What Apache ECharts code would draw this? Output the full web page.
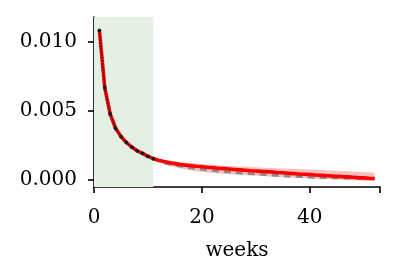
<!DOCTYPE html>
<html><head><meta charset="utf-8">
<script src="https://cdn.jsdelivr.net/npm/echarts@6/dist/echarts.min.js"></script>
<style>html,body{margin:0;padding:0;background:#fff}#c{width:398px;height:280px}</style>
</head><body><div id="c"></div>
<script>
const weeksAll = [1,2,3,4,5,6,7,8,9,10,11,12,13,14,15,16,17,18,19,20,21,22,23,24,25,26,27,28,29,30,31,32,33,34,35,36,37,38,39,40,41,42,43,44,45,46,47,48,49,50,51,52];
const redMean = [0.01083,0.00668,0.00478,0.00375,0.00315,0.00272,0.00239,0.00212,0.00193,0.00172,0.00155,0.00143,0.00134,0.00126,0.00119,0.00113,0.00108,0.00104,0.00100,0.00097,0.00093,0.00090,0.00086,0.00083,0.00080,0.00077,0.00074,0.00071,0.00068,0.00066,0.00063,0.00061,0.00058,0.00055,0.00053,0.00050,0.00047,0.00044,0.00042,0.00040,0.00037,0.00035,0.00032,0.00030,0.00028,0.00025,0.00023,0.00021,0.00018,0.00016,0.00013,0.00011];
const obsWeeks = [1,2,3,4,5,6,7,8,9,10,11];
const observed = [0.01083,0.00668,0.00478,0.00375,0.00315,0.00272,0.00239,0.00212,0.00193,0.00172,0.00155];
const fcWeeks = [11,12,13,14,15,16,17,18,19,20,21,22,23,24,25,26,27,28,29,30,31,32,33,34,35,36,37,38,39,40,41,42,43,44,45,46,47,48,49,50,51,52];
const dashed = [0.00155,0.00138,0.00125,0.00115,0.00107,0.00100,0.00093,0.00087,0.00082,0.00078,0.00073,0.00069,0.00065,0.00061,0.00058,0.00055,0.00052,0.00049,0.00046,0.00044,0.00041,0.00039,0.00036,0.00034,0.00031,0.00029,0.00027,0.00025,0.00023,0.00021,0.00019,0.00018,0.00017,0.00016,0.00015,0.00014,0.00013,0.00012,0.00011,0.00011,0.00010,0.00010];
const bandUpper = [0.00158,0.00152,0.00146,0.00141,0.00136,0.00131,0.00127,0.00123,0.00119,0.00116,0.00113,0.00110,0.00107,0.00104,0.00102,0.00100,0.00098,0.00096,0.00094,0.00092,0.00090,0.00089,0.00087,0.00085,0.00084,0.00082,0.00081,0.00080,0.00078,0.00077,0.00075,0.00073,0.00071,0.00070,0.00068,0.00066,0.00064,0.00062,0.00060,0.00058,0.00055,0.00053];
const bandLower = [0.00150,0.00130,0.00115,0.00102,0.00092,0.00083,0.00076,0.00070,0.00064,0.00059,0.00055,0.00051,0.00048,0.00045,0.00042,0.00040,0.00037,0.00035,0.00033,0.00031,0.00029,0.00027,0.00025,0.00023,0.00021,0.00019,0.00017,0.00015,0.00013,0.00012,0.00010,0.00009,0.00007,0.00005,0.00004,0.00002,0.00001,-0.00001,-0.00003,-0.00005,-0.00006,-0.00008];
const shadeRange = [0, 11];
const xTicks = [0, 20, 40];
const yTicks = [0.000, 0.005, 0.010];
const xLabel = 'weeks';

const font = 'DejaVu Serif';
const chart = echarts.init(document.getElementById('c'), null, {renderer:'canvas'});
const pair = (xs, ys) => xs.map((x,i)=>[x, ys[i]]);
chart.setOption({
  animation:false,
  grid:{left:94, right:18, top:17, bottom:93},
  xAxis:{type:'value', min:0, max:53, interval:20,
    name:xLabel, nameLocation:'middle', nameGap:54,
    nameTextStyle:{fontFamily:font, fontSize:20, color:'#000'},
    axisLine:{onZero:false, lineStyle:{color:'#000', width:1.6}},
    axisTick:{length:6, lineStyle:{color:'#000', width:1.6}},
    axisLabel:{fontFamily:font, fontSize:20, color:'#000', margin:21,
      formatter:v=>xTicks.includes(v)?String(v):''},
    splitLine:{show:false}},
  yAxis:{type:'value', min:-0.0005, max:0.0118, interval:0.005,
    axisLine:{show:true, lineStyle:{color:'#000', width:1.6}},
    axisTick:{show:true, length:6, lineStyle:{color:'#000', width:1.6},
      customValues: yTicks},
    axisLabel:{fontFamily:font, fontSize:20, color:'#000', margin:17,
      customValues: yTicks, formatter:v=>v.toFixed(3)},
    splitLine:{show:false}},
  series:[
    {type:'line', data:[], markArea:{silent:true, itemStyle:{color:'#e3f0e3'},
      data:[[{xAxis:shadeRange[0]},{xAxis:shadeRange[1]}]]}},
    {type:'custom', silent:true, data:[[fcWeeks[0], bandUpper[0]]],
      renderItem:(params, api)=>{
        const pts = [];
        fcWeeks.forEach((w,i)=>pts.push(api.coord([w, bandUpper[i]])));
        for (let i=fcWeeks.length-1;i>=0;i--) pts.push(api.coord([fcWeeks[i], bandLower[i]]));
        return {type:'polygon', shape:{points:pts}, style:{fill:'rgba(240,90,90,0.38)'}};
      }},
    {type:'line', data:pair(fcWeeks, dashed), symbol:'none',
      lineStyle:{color:'#8a8a8a', width:2.6, type:[7,5]}},
    {type:'line', data:pair(weeksAll, redMean), symbol:'none',
      lineStyle:{color:'#ff0000', width:3.6}},
    {type:'line', data:pair(obsWeeks, observed), symbol:'circle', symbolSize:3.8,
      itemStyle:{color:'#1a1a1a'}, lineStyle:{color:'#1a1a1a', width:1.5, type:'dotted'}}
  ]
});
</script></body></html>
